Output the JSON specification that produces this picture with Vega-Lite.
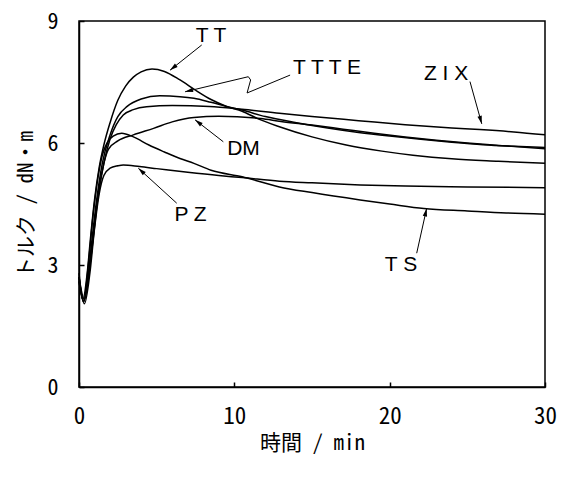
{
  "$schema": "https://vega.github.io/schema/vega-lite/v6.json",
  "width": 466,
  "height": 366,
  "autosize": {"type": "none"},
  "padding": {"left": 79, "top": 21, "right": 20, "bottom": 92},
  "background": "white",
  "config": {
    "view": {"stroke": "black", "strokeWidth": 1.5},
    "axis": {"grid": false, "domainColor": "black", "domainWidth": 1.5, "tickColor": "black", "tickWidth": 1.5, "labelColor": "black", "titleColor": "black"}
  },
  "datasets": {
    "curves": [
      {"s":"TT","t":0,"v":2.8},{"s":"TT","t":0.25,"v":2.15},{"s":"TT","t":0.5,"v":2.7},{"s":"TT","t":0.75,"v":3.7},{"s":"TT","t":1,"v":4.6},{"s":"TT","t":1.3,"v":5.4},{"s":"TT","t":1.6,"v":5.95},{"s":"TT","t":2,"v":6.5},{"s":"TT","t":2.5,"v":7.05},{"s":"TT","t":3,"v":7.4},{"s":"TT","t":3.5,"v":7.62},{"s":"TT","t":4,"v":7.75},{"s":"TT","t":4.7,"v":7.82},{"s":"TT","t":5.5,"v":7.76},{"s":"TT","t":6.5,"v":7.55},{"s":"TT","t":7.5,"v":7.3},{"s":"TT","t":8.5,"v":7.07},{"s":"TT","t":9.5,"v":6.9},{"s":"TT","t":10.5,"v":6.78},{"s":"TT","t":11.5,"v":6.6},{"s":"TT","t":12.9,"v":6.4},{"s":"TT","t":15,"v":6.15},{"s":"TT","t":17.2,"v":5.95},{"s":"TT","t":19.5,"v":5.8},{"s":"TT","t":21.5,"v":5.7},{"s":"TT","t":24,"v":5.61},{"s":"TT","t":27,"v":5.55},{"s":"TT","t":30,"v":5.5},
      {"s":"TTTE","t":0,"v":2.7},{"s":"TTTE","t":0.3,"v":2.1},{"s":"TTTE","t":0.55,"v":2.6},{"s":"TTTE","t":0.8,"v":3.5},{"s":"TTTE","t":1.1,"v":4.5},{"s":"TTTE","t":1.5,"v":5.5},{"s":"TTTE","t":2,"v":6.2},{"s":"TTTE","t":2.5,"v":6.65},{"s":"TTTE","t":3.1,"v":6.9},{"s":"TTTE","t":4,"v":7.08},{"s":"TTTE","t":5.2,"v":7.16},{"s":"TTTE","t":6.5,"v":7.14},{"s":"TTTE","t":7.4,"v":7.1},{"s":"TTTE","t":8.5,"v":7.0},{"s":"TTTE","t":9.5,"v":6.9},{"s":"TTTE","t":10.5,"v":6.81},{"s":"TTTE","t":12,"v":6.65},{"s":"TTTE","t":14,"v":6.5},{"s":"TTTE","t":16,"v":6.37},{"s":"TTTE","t":18,"v":6.26},{"s":"TTTE","t":20,"v":6.17},{"s":"TTTE","t":22,"v":6.09},{"s":"TTTE","t":24,"v":6.02},{"s":"TTTE","t":26,"v":5.96},{"s":"TTTE","t":28,"v":5.92},{"s":"TTTE","t":30,"v":5.89},
      {"s":"ZIX","t":0,"v":2.6},{"s":"ZIX","t":0.3,"v":2.1},{"s":"ZIX","t":0.6,"v":2.7},{"s":"ZIX","t":0.9,"v":3.6},{"s":"ZIX","t":1.2,"v":4.6},{"s":"ZIX","t":1.6,"v":5.5},{"s":"ZIX","t":2,"v":6.1},{"s":"ZIX","t":2.4,"v":6.45},{"s":"ZIX","t":2.85,"v":6.69},{"s":"ZIX","t":3.5,"v":6.82},{"s":"ZIX","t":4.35,"v":6.89},{"s":"ZIX","t":6,"v":6.92},{"s":"ZIX","t":8.4,"v":6.9},{"s":"ZIX","t":10.5,"v":6.83},{"s":"ZIX","t":12.9,"v":6.73},{"s":"ZIX","t":15,"v":6.65},{"s":"ZIX","t":18,"v":6.55},{"s":"ZIX","t":21,"v":6.45},{"s":"ZIX","t":24,"v":6.37},{"s":"ZIX","t":25.8,"v":6.33},{"s":"ZIX","t":28,"v":6.27},{"s":"ZIX","t":30,"v":6.2},
      {"s":"DM","t":0,"v":2.7},{"s":"DM","t":0.35,"v":2.15},{"s":"DM","t":0.7,"v":3.0},{"s":"DM","t":1.0,"v":4.0},{"s":"DM","t":1.3,"v":4.9},{"s":"DM","t":1.6,"v":5.5},{"s":"DM","t":1.9,"v":5.85},{"s":"DM","t":2.5,"v":6.05},{"s":"DM","t":3.5,"v":6.2},{"s":"DM","t":4.8,"v":6.36},{"s":"DM","t":6,"v":6.52},{"s":"DM","t":7.4,"v":6.63},{"s":"DM","t":9,"v":6.66},{"s":"DM","t":11.7,"v":6.6},{"s":"DM","t":13,"v":6.53},{"s":"DM","t":15,"v":6.44},{"s":"DM","t":17,"v":6.34},{"s":"DM","t":19,"v":6.24},{"s":"DM","t":21,"v":6.15},{"s":"DM","t":23,"v":6.07},{"s":"DM","t":25,"v":6.0},{"s":"DM","t":27,"v":5.94},{"s":"DM","t":30,"v":5.86},
      {"s":"TS","t":0,"v":2.7},{"s":"TS","t":0.3,"v":2.1},{"s":"TS","t":0.6,"v":3.0},{"s":"TS","t":0.9,"v":4.2},{"s":"TS","t":1.2,"v":5.1},{"s":"TS","t":1.5,"v":5.7},{"s":"TS","t":1.8,"v":6.0},{"s":"TS","t":2.2,"v":6.17},{"s":"TS","t":2.75,"v":6.24},{"s":"TS","t":3.5,"v":6.15},{"s":"TS","t":4.5,"v":5.95},{"s":"TS","t":5.5,"v":5.78},{"s":"TS","t":6.5,"v":5.62},{"s":"TS","t":7.4,"v":5.5},{"s":"TS","t":8.5,"v":5.33},{"s":"TS","t":10.5,"v":5.17},{"s":"TS","t":12.9,"v":4.92},{"s":"TS","t":15,"v":4.78},{"s":"TS","t":18.1,"v":4.6},{"s":"TS","t":20,"v":4.5},{"s":"TS","t":22.2,"v":4.39},{"s":"TS","t":25,"v":4.33},{"s":"TS","t":27.5,"v":4.28},{"s":"TS","t":30,"v":4.25},
      {"s":"PZ","t":0,"v":2.6},{"s":"PZ","t":0.35,"v":2.05},{"s":"PZ","t":0.7,"v":2.8},{"s":"PZ","t":1.0,"v":3.9},{"s":"PZ","t":1.3,"v":4.75},{"s":"PZ","t":1.6,"v":5.2},{"s":"PZ","t":2.0,"v":5.38},{"s":"PZ","t":2.5,"v":5.44},{"s":"PZ","t":2.85,"v":5.46},{"s":"PZ","t":3.9,"v":5.42},{"s":"PZ","t":5,"v":5.37},{"s":"PZ","t":7,"v":5.28},{"s":"PZ","t":9,"v":5.2},{"s":"PZ","t":10.5,"v":5.15},{"s":"PZ","t":12.9,"v":5.06},{"s":"PZ","t":15,"v":5.02},{"s":"PZ","t":18.1,"v":4.97},{"s":"PZ","t":21,"v":4.94},{"s":"PZ","t":25,"v":4.92},{"s":"PZ","t":30,"v":4.9}
    ],
    "arrows": [
      {"id":"TT","seq":1,"x":7.9,"y":8.41},{"id":"TT","seq":2,"x":5.86,"y":7.79},
      {"id":"TTTE","seq":1,"x":13.59,"y":7.67},{"id":"TTTE","seq":2,"x":10.82,"y":7.23},{"id":"TTTE","seq":3,"x":11.05,"y":7.55},{"id":"TTTE","seq":4,"x":10.9,"y":7.63},{"id":"TTTE","seq":5,"x":6.83,"y":7.26},
      {"id":"ZIX","seq":1,"x":25.17,"y":7.51},{"id":"ZIX","seq":2,"x":25.93,"y":6.47},
      {"id":"DM","seq":1,"x":9.29,"y":6.03},{"id":"DM","seq":2,"x":7.47,"y":6.57},
      {"id":"PZ","seq":1,"x":6.29,"y":4.52},{"id":"PZ","seq":2,"x":3.82,"y":5.38},
      {"id":"TS","seq":1,"x":21.74,"y":3.29},{"id":"TS","seq":2,"x":22.38,"y":4.39}
    ],
    "labels": [
      {"label":"T T","x":8.5,"y":8.64},
      {"label":"T T T E","x":15.97,"y":7.84},
      {"label":"Z  I  X","x":23.63,"y":7.7},
      {"label":"DM","x":10.59,"y":5.86},
      {"label":"P Z","x":7.18,"y":4.22},
      {"label":"T S","x":20.73,"y":2.99}
    ]
  },
  "layer": [
    {
      "data": {"name": "curves"},
      "mark": {"type": "line", "color": "black", "strokeWidth": 1.5, "interpolate": "monotone"},
      "encoding": {
        "x": {"field": "t", "type": "quantitative", "scale": {"domain": [0, 30], "nice": false},
          "axis": {"values": [0, 10, 20, 30], "tickSize": -5, "labelPadding": 23, "labelFontSize": 23, "labelFont": "Noto Sans Mono CJK JP", "labelFlush": false, "labelOverlap": false,
            "title": "時間 / min", "titleFont": "Noto Sans Mono CJK JP", "titleFontSize": 21, "titleFontWeight": "normal", "titlePadding": 4}},
        "y": {"field": "v", "type": "quantitative", "scale": {"domain": [0, 9], "nice": false},
          "axis": {"values": [0, 3, 6, 9], "tickSize": -5, "labelPadding": 26, "labelFontSize": 22, "labelFont": "Noto Sans Mono CJK JP", "labelFlush": false, "labelOverlap": false,
            "title": "トルク / dN・m", "titleFont": "Noto Sans Mono CJK JP", "titleFontSize": 21, "titleFontWeight": "normal", "titlePadding": 10}},
        "detail": {"field": "s"}
      }
    },
    {
      "data": {"name": "arrows"},
      "mark": {"type": "line", "color": "black", "strokeWidth": 1},
      "encoding": {
        "x": {"field": "x", "type": "quantitative"},
        "y": {"field": "y", "type": "quantitative"},
        "detail": {"field": "id"},
        "order": {"field": "seq"}
      }
    },
    {
      "data": {"name": "arrows"},
      "transform": [
        {"window": [{"op": "lag", "field": "x", "as": "px"}, {"op": "lag", "field": "y", "as": "py"}], "groupby": ["id"], "sort": [{"field": "seq"}]},
        {"joinaggregate": [{"op": "max", "field": "seq", "as": "last"}], "groupby": ["id"]},
        {"filter": "datum.seq == datum.last"},
        {"calculate": "atan2((datum.x - datum.px) * 466 / 30, (datum.y - datum.py) * 366 / 9) * 180 / PI", "as": "ang"}
      ],
      "mark": {"type": "point", "shape": "M0,0L-0.55,2L0.55,2Z", "filled": true, "color": "black", "size": 64, "opacity": 1},
      "encoding": {
        "x": {"field": "x", "type": "quantitative"},
        "y": {"field": "y", "type": "quantitative"},
        "angle": {"field": "ang", "type": "quantitative", "scale": null}
      }
    },
    {
      "data": {"name": "labels"},
      "mark": {"type": "text", "font": "Liberation Sans", "fontSize": 21, "color": "black"},
      "encoding": {
        "x": {"field": "x", "type": "quantitative"},
        "y": {"field": "y", "type": "quantitative"},
        "text": {"field": "label"}
      }
    }
  ]
}
